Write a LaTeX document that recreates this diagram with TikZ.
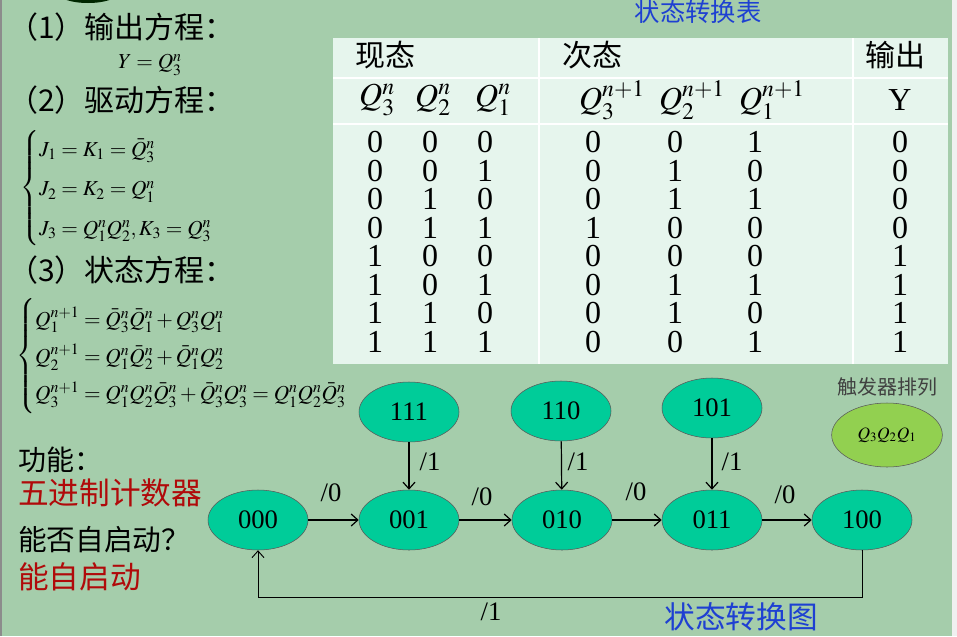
\documentclass[tikz,border=0pt]{standalone}
\usepackage{mathptmx}
\usepackage{fontspec}
\setmainfont{Liberation Serif}
\newfontfamily\cjk{Noto Sans CJK SC}
\usetikzlibrary{shapes.geometric,arrows.meta,positioning}
\definecolor{bggreen}{RGB}{165,205,171}
\definecolor{tablefill}{RGB}{230,245,237}
\definecolor{stategreen}{RGB}{0,204,153}
\definecolor{legendgreen}{RGB}{146,208,80}
\definecolor{titleblue}{RGB}{30,64,210}
\definecolor{darkred}{RGB}{176,10,10}
\tikzset{
  state/.style={
    shape = ellipse,
    draw = black!65,
    fill = stategreen,
    minimum width = 75pt,
    minimum height = 45pt,
    inner sep = 0pt,
    font = \fontsize{20}{24}\selectfont
  },
  arr/.style={
    -{Straight Barb[length=5pt,width=9pt]},
    line width = 0.9pt
  },
  lbl/.style={
    font = \fontsize{20}{24}\selectfont,
    inner sep = 1pt
  },
  zh/.style={
    font = \cjk\fontsize{22.5}{26}\selectfont,
    anchor = west,
    inner sep = 0pt
  },
  cell/.style={
    font = \fontsize{24}{26}\selectfont,
    inner sep = 0pt
  },
  eqs/.style={
    font = \fontsize{16}{18}\selectfont,
    anchor = west,
    inner sep = 0pt
  }
}
\begin{document}
\begin{tikzpicture}[x=0.75pt,y=-0.75pt]
    \useasboundingbox (0,0) rectangle (957,636);
    \fill[bggreen] (0,0) rectangle (957,636);
    \fill[black!45] (0,0) rectangle (2,636);
    \fill[black!6] (952,0) rectangle (957,636);
    \begin{scope}
        \clip (0,0) rectangle (957,636);
        \fill[black!85!green] (88,-7) ellipse [x radius=30, y radius=10];
    \end{scope}
    % left column
    \node[zh] (t1) at (8,27) {（1）输出方程：};
    \node[eqs, anchor=center] (eqy) at (150,65) {$Y = Q_3^n$};
    \node[zh] (t2) at (8,100) {（2）驱动方程：};
    \node[eqs] (eqd) at (20,188) {$\renewcommand\arraystretch{1.65}\left\{\begin{array}{@{}l@{}}
        J_1 = K_1 = \bar{Q}_3^n\\
        J_2 = K_2 = Q_1^n\\
        J_3 = Q_1^nQ_2^n, K_3 = Q_3^n
        \end{array}\right.$};
    \node[zh] (t3) at (8,270) {（3）状态方程：};
    \node[eqs] (eqs) at (16,356) {$\renewcommand\arraystretch{1.55}\left\{\begin{array}{@{}l@{}}
        Q_1^{n+1} = \bar{Q}_3^n\bar{Q}_1^n + Q_3^nQ_1^n\\
        Q_2^{n+1} = Q_1^n\bar{Q}_2^n + \bar{Q}_1^nQ_2^n\\
        Q_3^{n+1} = Q_1^nQ_2^n\bar{Q}_3^n + \bar{Q}_3^nQ_3^n = Q_1^nQ_2^n\bar{Q}_3^n
        \end{array}\right.$};
    \node[zh, font=\cjk\fontsize{21}{25}\selectfont] (f1) at (18,460) {功能：};
    \node[zh, text=darkred, font=\cjk\fontsize{23}{26}\selectfont] (f2) at (18,493) {五进制计数器};
    \node[zh, font=\cjk\fontsize{21.5}{25}\selectfont] (f3) at (18,540) {能否自启动？};
    \node[zh, text=darkred, font=\cjk\fontsize{23}{26}\selectfont] (f4) at (18,577) {能自启动};
    % table
    \node[font=\cjk\fontsize{19}{22}\selectfont, text=titleblue] (ttab) at (698,12) {状态转换表};
    \fill[tablefill] (333,38) rectangle (948,364);
    \draw[white, line width=1.5pt] (333,78) -- (948,78) (333,124) -- (948,124)
        (539,38) -- (539,364) (853,38) -- (853,364);
    \node[zh, anchor=center] (hcur) at (385,55) {现态};
    \node[zh, anchor=center] (hnext) at (592,55) {次态};
    \node[zh, anchor=center] (hout) at (895,55) {输出};
    \node[cell] (q3) at (377,100) {$Q_3^n$};
    \node[cell] (q2) at (433,100) {$Q_2^n$};
    \node[cell] (q1) at (493,100) {$Q_1^n$};
    \node[cell] (p3) at (612,100) {$Q_3^{n+1}$};
    \node[cell] (p2) at (692,100) {$Q_2^{n+1}$};
    \node[cell] (p1) at (772,100) {$Q_1^{n+1}$};
    \node[cell] (yy) at (900,100) {Y};
    \foreach \a/\b/\c/\d/\e/\f/\g [count=\i] in {0/0/0/0/0/1/0, 0/0/1/0/1/0/0,
        0/1/0/0/1/1/0, 0/1/1/1/0/0/0, 1/0/0/0/0/0/1, 1/0/1/0/1/1/1,
        1/1/0/0/1/0/1, 1/1/1/0/0/1/1}{
        \pgfmathsetmacro\yr{142+(\i-1)*28.57}
        \node[cell] (a\i) at (375,\yr) {\a};
        \node[cell] (b\i) at (430,\yr) {\b};
        \node[cell] (c\i) at (485,\yr) {\c};
        \node[cell] (d\i) at (593,\yr) {\d};
        \node[cell] (e\i) at (675,\yr) {\e};
        \node[cell] (f\i) at (755,\yr) {\f};
        \node[cell] (g\i) at (900,\yr) {\g};
    }
    % state diagram
    \node[state] (s000) at (258,520) {000};
    \node[state] (s001) at (409,520) {001};
    \node[state] (s010) at (562,520) {010};
    \node[state] (s011) at (712,520) {011};
    \node[state] (s100) at (862,520) {100};
    \node[state] (s111) at (409,412) {111};
    \node[state] (s110) at (561,411) {110};
    \node[state] (s101) at (712,408) {101};
    \draw[arr] (s000) -- (s001);
    \draw[arr] (s001) -- (s010);
    \draw[arr] (s010) -- (s011);
    \draw[arr] (s011) -- (s100);
    \draw[arr] (s111) -- (s001);
    \draw[arr] (s110) -- (s010);
    \draw[arr] (s101) -- (s011);
    \coordinate (fb) at (862,597);
    \draw[arr, line width=0.7pt] (s100.south) -- (fb) -| (s000.south);
    \node[lbl] (l1) at (331,493) {/0};
    \node[lbl] (l2) at (482,497) {/0};
    \node[lbl] (l3) at (636,492) {/0};
    \node[lbl] (l4) at (785,495) {/0};
    \node[lbl] (l5) at (430,462) {/1};
    \node[lbl] (l6) at (578,462) {/1};
    \node[lbl] (l7) at (732,462) {/1};
    \node[lbl] (l8) at (491,612) {/1};
    \node[font=\cjk\fontsize{23}{26}\selectfont, text=titleblue] (tdiag) at (741,617) {状态转换图};
    % legend
    \node[font=\cjk\fontsize{15}{18}\selectfont, text=black!75] (tleg) at (887,387) {触发器排列};
    \node[state, fill=legendgreen, minimum width=83pt, minimum height=48pt,
        font=\fontsize{13}{15}\selectfont] (leg) at (887,435) {$Q_3Q_2Q_1$};
\end{tikzpicture}
\end{document}
